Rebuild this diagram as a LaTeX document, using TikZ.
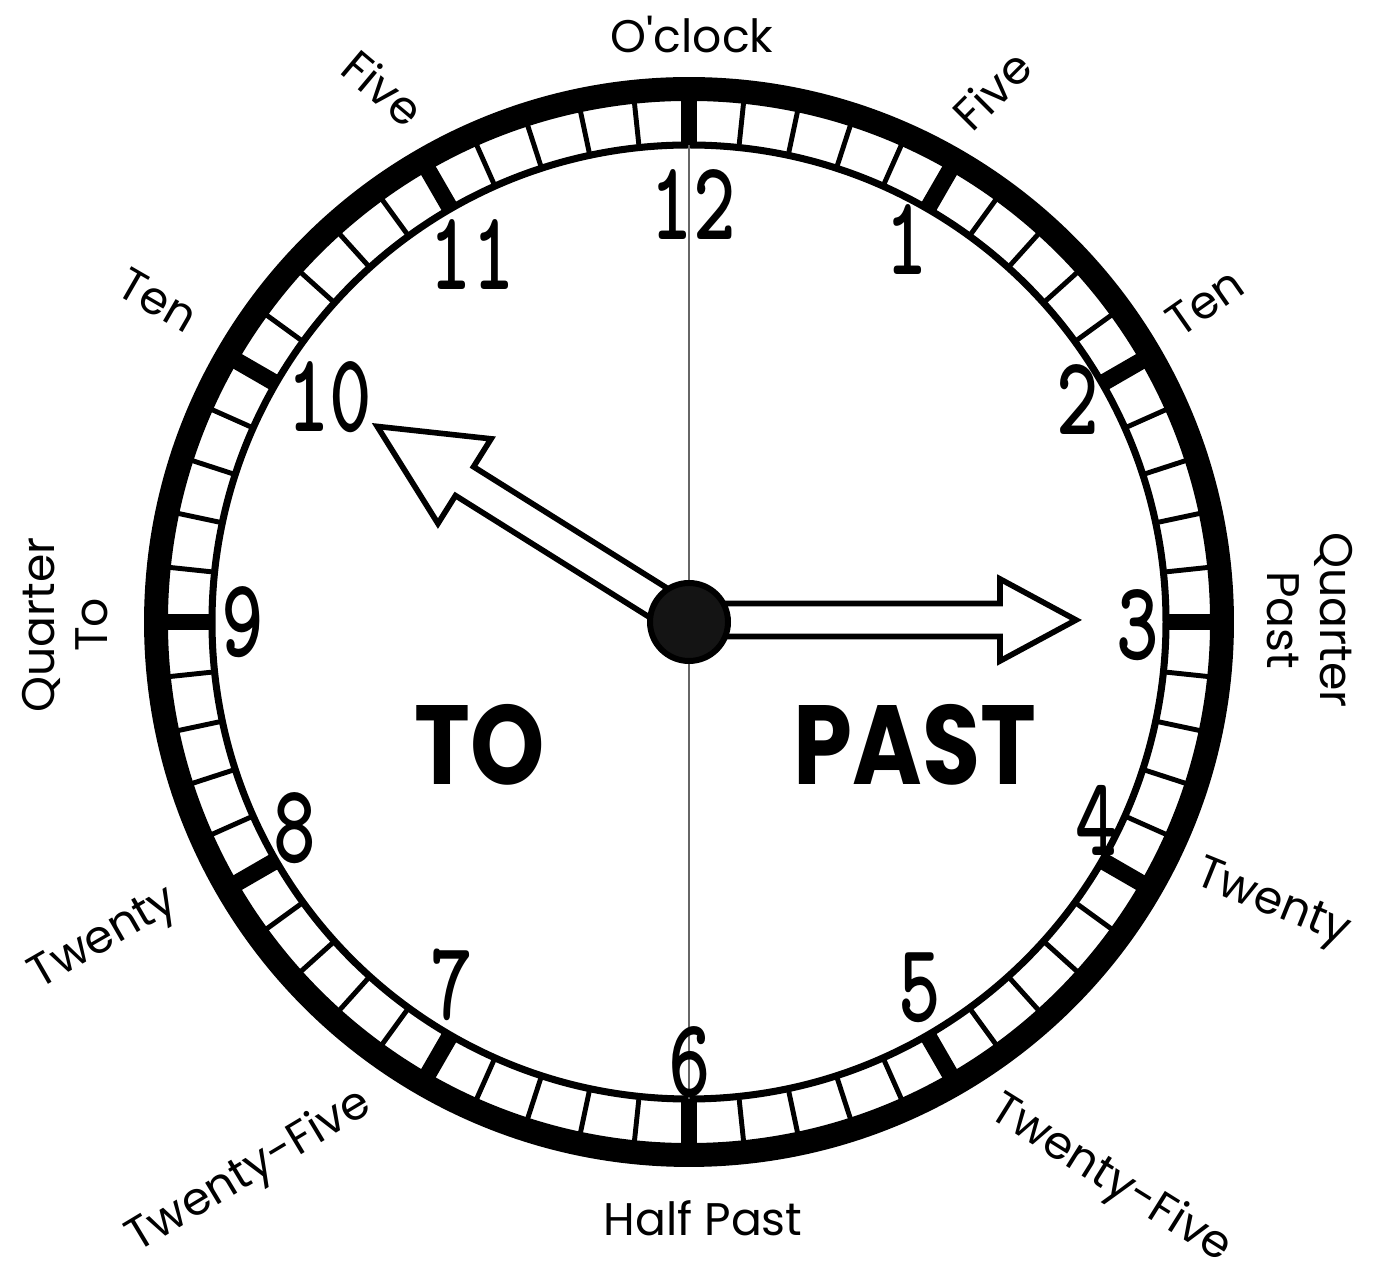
\documentclass[tikz,border=0pt]{standalone}
\usepackage{fontspec}
\newfontfamily\labfont{Poppins}

\begin{document}
\begin{tikzpicture}[x=0.01cm,y=0.01cm,
  rim/.style={line width=6.8pt},
  track/.style={line width=2pt},
  mintick/.style={line width=1.4pt},
  fivetick/.style={line width=4.8pt},
  hand/.style={draw=black,fill=white,line width=1.6pt,miter limit=10},
  num/.style={font=\ttfamily\bfseries\fontsize{32}{32}\selectfont,xscale=0.72,inner sep=0pt},
  lab/.style={font=\labfont\fontsize{13}{15}\selectfont,inner sep=0pt,align=center},
  side/.style={font=\labfont\bfseries\fontsize{32}{32}\selectfont,xscale=0.84,inner sep=0pt}]
  \useasboundingbox (-689,-652) rectangle (697,622);
  \coordinate (c) at (0,0);
  % rim and minute track
  \draw[rim] (c) circle (533);
  \draw[track] (c) circle (477);
  \foreach \m in {0,...,59} \draw[mintick] (90-6*\m:477) -- (90-6*\m:533);
  \foreach \m in {0,5,...,55} \draw[fivetick] (90-6*\m:477) -- (90-6*\m:533);
  % split line
  \coordinate (top) at (0,477);
  \coordinate (bot) at (0,-477);
  \draw[black!60,line width=0.5pt] (top) -- (bot);
  % numbers
  \foreach \k/\xx/\yy in {12/4/417,1/218/382,2/389/222,3/449/-3,4/408/-198,5/231/-366,
      6/1/-440,7/-237/-363,8/-394/-206,9/-446/0,10/-359/225,11/-217/367}
    \node[num] (n\k) at (\xx,\yy) {\k};
  % words round the rim
  \node[lab] (oclock) at (3,587) {O'clock};
  \node[lab,rotate=45] (fiver) at (303,532) {Five};
  \node[lab,rotate=35] (tenr) at (516,320) {Ten};
  \node[lab,rotate=-90] (qpast) at (621,2) {Quarter\\Past};
  \node[lab,rotate=-22] (twentyr) at (583,-283) {Twenty};
  \node[lab,rotate=-32] (tfiver) at (421,-558) {Twenty-Five};
  \node[lab] (halfpast) at (14,-596) {Half Past};
  \node[lab,rotate=31] (tfivel) at (-439,-550) {Twenty-Five};
  \node[lab,rotate=30] (twentyl) at (-584,-318) {Twenty};
  \node[lab,rotate=90] (qto) at (-624,-3) {Quarter\\To};
  \node[lab,rotate=-30] (tenl) at (-531,322) {Ten};
  \node[lab,rotate=-40] (fivel) at (-306,534) {Five};
  \node[side] (to) at (-209,-123) {TO};
  \node[side] (past) at (226,-123) {PAST};
  % hands
  \begin{scope}[rotate=147.9]
    \draw[hand] (30,17) -- (265,17) -- (265,50) -- (368,0) -- (265,-50) -- (265,-17) -- (30,-17);
  \end{scope}
  \begin{scope}[yshift=0.02cm]
    \draw[hand] (30,16.5) -- (311,16.5) -- (311,41) -- (387,0) -- (311,-41) -- (311,-16.5) -- (30,-16.5);
  \end{scope}
  \filldraw[fill=black!92,draw=black,line width=1.7pt] (c) circle (39);
\end{tikzpicture}
\end{document}
